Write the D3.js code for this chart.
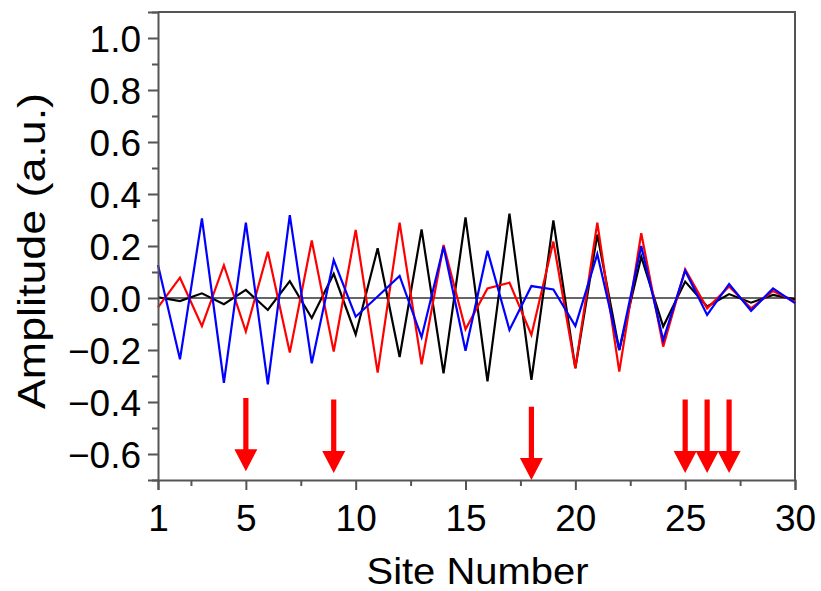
<!DOCTYPE html>
<html>
<head>
<meta charset="utf-8">
<script src="https://cdn.jsdelivr.net/npm/d3@7"></script>
<style>
  html, body { margin: 0; padding: 0; background: #fff; }
  svg { display: block; }
</style>
</head>
<body>
<svg id="chart" width="821" height="591"></svg>
<script>
// Site indices along the chain
const sites = d3.range(1, 31);

// Amplitude of each mode at each site
const blackSeries = [0.003, -0.012, 0.018, -0.024, 0.031, -0.046, 0.065, -0.077, 0.093, -0.14,
                     0.191, -0.227, 0.264, -0.29, 0.31, -0.321, 0.324, -0.315, 0.298, -0.27,
                     0.244, -0.2, 0.159, -0.11, 0.063, -0.033, 0.015, -0.018, 0.012, -0.005];
const redSeries   = [-0.036, 0.078, -0.108, 0.126, -0.129, 0.178, -0.21, 0.221, -0.206, 0.262,
                     -0.287, 0.29, -0.255, 0.204, -0.12, 0.037, 0.059, -0.142, 0.217, -0.27,
                     0.29, -0.283, 0.249, -0.187, 0.11, -0.04, 0.044, -0.04, 0.027, -0.014];
const blueSeries  = [0.127, -0.236, 0.306, -0.326, 0.29, -0.332, 0.319, -0.251, 0.146, -0.072,
                     0.006, 0.085, -0.151, 0.197, -0.203, 0.182, -0.123, 0.046, 0.033, -0.108,
                     0.169, -0.2, 0.2, -0.162, 0.105, -0.065, 0.054, -0.049, 0.037, -0.02];

// Marked sites (arrows): site, arrow tail value, arrow tip value
const arrowSites = [5, 9, 18, 25, 26, 27];
const arrowTail  = [-0.385, -0.39, -0.418, -0.39, -0.39, -0.39];
const arrowTip   = [-0.666, -0.673, -0.70, -0.673, -0.673, -0.673];

const xTicks = [1, 5, 10, 15, 20, 25, 30];
const xMinorTicks = [2.5, 7.5, 12.5, 17.5, 22.5, 27.5];
const yTicks = [-0.6, -0.4, -0.2, 0.0, 0.2, 0.4, 0.6, 0.8, 1.0];
const yMinorTicks = [-0.7, -0.5, -0.3, -0.1, 0.1, 0.3, 0.5, 0.7, 0.9, 1.1];

const margin = { left: 158, right: 795, top: 12, bottom: 480 };
const axisColor = "#555";
const font = "'Liberation Sans', Arial, sans-serif";
const svg = d3.select("#chart");

const x = d3.scaleLinear().domain([1, 30]).range([margin.left, margin.right]);
const y = d3.scaleLinear().domain([-0.7, 1.1]).range([margin.bottom, margin.top]);

// Frame (top and right sides)
svg.append("path")
  .attr("d", `M${margin.left},${margin.top}H${margin.right}V${margin.bottom}`)
  .attr("fill", "none").attr("stroke", axisColor).attr("stroke-width", 2);

// Zero reference line
svg.append("line")
  .attr("x1", x(1)).attr("x2", x(30)).attr("y1", y(0)).attr("y2", y(0))
  .attr("stroke", "#333").attr("stroke-width", 1.6);

// Series
const line = d3.line().x((d, i) => x(sites[i])).y(d => y(d));
[[blackSeries, "#000"], [redSeries, "#ff0000"], [blueSeries, "#0000ff"]].forEach(([s, c]) => {
  svg.append("path").datum(s).attr("d", line)
    .attr("fill", "none").attr("stroke", c).attr("stroke-width", 2.2)
    .attr("stroke-linejoin", "miter");
});

// Arrows
arrowSites.forEach((s, i) => {
  const cx = x(s), y0 = y(arrowTail[i]), y1 = y(arrowTip[i]);
  const headLen = 22, headHalf = 11.5, shaftHalf = 2.6;
  svg.append("path")
    .attr("d", `M${cx - shaftHalf},${y0}H${cx + shaftHalf}V${y1 - headLen}H${cx + headHalf}L${cx},${y1}L${cx - headHalf},${y1 - headLen}H${cx - shaftHalf}Z`)
    .attr("fill", "#ff0000");
});

// Axes
const xAxis = svg.append("g").attr("transform", `translate(0,${margin.bottom})`)
  .call(d3.axisBottom(x).tickValues(xTicks).tickFormat(d3.format("d")).tickSize(10).tickPadding(15));
const xMinor = svg.append("g").attr("transform", `translate(0,${margin.bottom})`)
  .call(d3.axisBottom(x).tickValues(xMinorTicks).tickFormat("").tickSize(6));
const yAxis = svg.append("g").attr("transform", `translate(${margin.left},0)`)
  .call(d3.axisLeft(y).tickValues(yTicks).tickFormat(d3.format(".1f")).tickSize(10).tickPadding(7));
const yMinor = svg.append("g").attr("transform", `translate(${margin.left},0)`)
  .call(d3.axisLeft(y).tickValues(yMinorTicks).tickFormat("").tickSize(6));

[xAxis, xMinor, yAxis, yMinor].forEach(g => {
  g.select(".domain").attr("stroke", axisColor).attr("stroke-width", 2);
  g.selectAll(".tick line").attr("stroke", axisColor).attr("stroke-width", 2);
});
xMinor.select(".domain").remove();
yMinor.select(".domain").remove();

xAxis.selectAll(".tick text")
  .attr("font-family", font).attr("font-size", 37).attr("fill", "#000");
yAxis.selectAll(".tick text")
  .attr("font-family", font).attr("font-size", 37).attr("fill", "#000")
  .attr("dy", "0.36em");

// Axis titles
svg.append("text")
  .attr("x", (margin.left + margin.right) / 2 + 1).attr("y", 584)
  .attr("text-anchor", "middle")
  .attr("font-family", font).attr("font-size", 37).attr("fill", "#000")
  .attr("textLength", 222).attr("lengthAdjust", "spacingAndGlyphs")
  .text("Site Number");
svg.append("text")
  .attr("transform", "translate(45,251) rotate(-90)")
  .attr("text-anchor", "middle")
  .attr("font-family", font).attr("font-size", 38).attr("fill", "#000")
  .attr("textLength", 316).attr("lengthAdjust", "spacingAndGlyphs")
  .text("Amplitude (a.u.)");
</script>
</body>
</html>
